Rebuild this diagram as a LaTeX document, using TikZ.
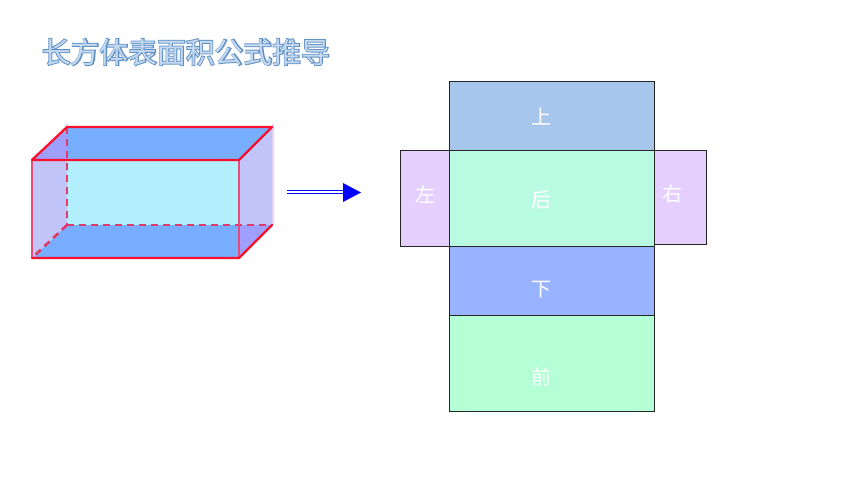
\documentclass[tikz,border=0pt]{standalone}
\usepackage{fontspec}
\setmainfont{Noto Sans CJK SC}
\newfontfamily\titleout[FakeBold=6]{Noto Sans CJK SC}
\newfontfamily\titlein{Noto Sans CJK SC}
\definecolor{topblue}{HTML}{A7C6EC}
\definecolor{backgreen}{HTML}{B9FBE2}
\definecolor{sidepurple}{HTML}{E4CFFF}
\definecolor{downblue}{HTML}{98B3FF}
\definecolor{frontgreen}{HTML}{B5FFD6}
\definecolor{boxblue}{HTML}{78AEFF}
\definecolor{boxback}{HTML}{B2EFFF}
\definecolor{boxside}{HTML}{C0C4F8}
\definecolor{boxover}{HTML}{9F9FFF}
\definecolor{edgered}{HTML}{FA0F2D}
\definecolor{edgesoft}{HTML}{EA4A78}
\definecolor{hiddenred}{HTML}{E23A68}
\definecolor{titleline}{HTML}{5F90C4}
\definecolor{titlefill}{HTML}{C4D9F0}
\tikzset{
  face/.style={draw=black!85,line width=0.8pt,anchor=north west,inner sep=0pt,outer sep=0pt},
  netlabel/.style={text=white,font=\fontsize{20}{20}\selectfont,inner sep=0pt},
  solidedge/.style={edgered,line width=2.3pt,line cap=round,line join=round},
  softedge/.style={edgesoft,line width=2.2pt},
  hiddenedge/.style={hiddenred,line width=2.6pt,dash pattern=on 7pt off 5pt},
  arrowline/.style={blue,line width=1pt},
}
\begin{document}
\begin{tikzpicture}[x=1pt,y=-1pt]
\useasboundingbox (0,0) rectangle (860,484);
% title
\node[inner sep=0pt,text=titleline,font=\titleout\fontsize{28.8}{28.8}\selectfont] (titleback) at (186,52) {长方体表面积公式推导};
\node[inner sep=0pt,text=titlefill,font=\titlein\fontsize{28.8}{28.8}\selectfont] (title) at (186,52) {长方体表面积公式推导};
% cuboid
\coordinate (A) at (32,160); \coordinate (B) at (239,160);
\coordinate (C) at (239,258); \coordinate (D) at (32,258);
\coordinate (E) at (67,127); \coordinate (F) at (272,127);
\coordinate (G) at (272,225); \coordinate (H) at (67,225);
\fill[boxback] (E) rectangle (G);
\fill[boxblue] (E) -- (F) -- (B) -- (A) -- cycle;
\fill[boxblue] (H) -- (G) -- (C) -- (D) -- cycle;
\fill[boxside] (A) -- (E) -- (H) -- (D) -- cycle;
\fill[boxside] (B) -- (F) -- (G) -- (C) -- cycle;
\fill[boxover] (A) -- (E) -- (67,160) -- cycle;
\fill[boxover] (239,225) -- (G) -- (C) -- cycle;
\draw[sidepurple,line width=1.5pt] (F) ++(1,-3) -- ++(0,100);
\draw[sidepurple,line width=1.5pt] (E) ++(0,-3) -- ++(0,3);
\draw[hiddenedge] (E) -- (H);
\draw[hiddenedge] (H) -- (G);
\draw[hiddenedge] (H) -- (D);
\draw[softedge] (A) -- (D);
\draw[softedge] (B) -- (C);
\draw[solidedge] (D) -- (C) -- (G);
\draw[solidedge] (A) -- (B) -- (F) -- (E) -- cycle;
% arrow
\coordinate (arrowstart) at (287,192.2);
\coordinate (arrowend) at (344,192.2);
\draw[arrowline] ([yshift=-1.2pt]arrowstart) -- ([yshift=-1.2pt]arrowend);
\draw[arrowline] ([yshift=1.2pt]arrowstart) -- ([yshift=1.2pt]arrowend);
\fill[blue] (343,183) -- (361,192.5) -- (343,202) -- cycle;
% net
\node[face,fill=topblue,minimum width=205pt,minimum height=69pt] (top) at (449,81) {};
\node[face,fill=sidepurple,minimum width=48.5pt,minimum height=96.5pt] (left) at (400.5,150) {};
\node[face,fill=sidepurple,minimum width=52.5pt,minimum height=94pt] (right) at (654,150) {};
\node[face,fill=backgreen,minimum width=205pt,minimum height=96.5pt] (back) at (449,150) {};
\node[face,fill=downblue,minimum width=205pt,minimum height=68.5pt] (down) at (449,246.5) {};
\node[face,fill=frontgreen,minimum width=205pt,minimum height=96pt] (front) at (449,315) {};
\node[netlabel] (ltop) at (541,117) {上};
\node[netlabel] (lleft) at (425,195) {左};
\node[netlabel] (lback) at (541,200) {后};
\node[netlabel] (lright) at (672,194) {右};
\node[netlabel] (ldown) at (541,290) {下};
\node[netlabel] (lfront) at (541,377) {前};
\end{tikzpicture}
\end{document}
